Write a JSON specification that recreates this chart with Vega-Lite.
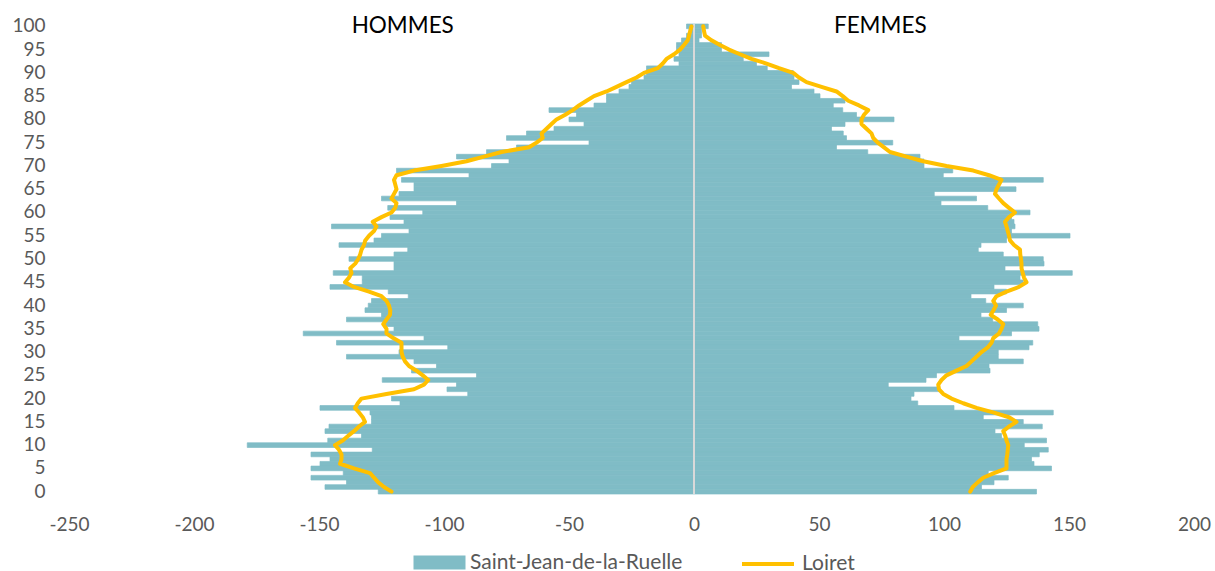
{
  "$schema": "https://vega.github.io/schema/vega-lite/v6.json",
  "width": 1125,
  "height": 470,
  "autosize": {"type": "none"},
  "padding": {"left": 69, "top": 24, "right": 21, "bottom": 77},
  "background": "white",
  "config": {"view": {"stroke": null}, "font": "Lato"},
  "data": {"values": [
    {"a":100,"s":"H","p":-3,"l":-1},{"a":99,"s":"H","p":-2,"l":-1.5},{"a":98,"s":"H","p":-3,"l":-2},{"a":97,"s":"H","p":-5,"l":-2.5},{"a":96,"s":"H","p":-7,"l":-4},
    {"a":95,"s":"H","p":-7,"l":-5.6},{"a":94,"s":"H","p":-6,"l":-8},{"a":93,"s":"H","p":-8,"l":-11},{"a":92,"s":"H","p":-6,"l":-12.5},{"a":91,"s":"H","p":-19,"l":-14.5},
    {"a":90,"s":"H","p":-19,"l":-20},{"a":89,"s":"H","p":-20,"l":-23},{"a":88,"s":"H","p":-25,"l":-27},{"a":87,"s":"H","p":-26,"l":-31},{"a":86,"s":"H","p":-30,"l":-35},
    {"a":85,"s":"H","p":-35,"l":-40},{"a":84,"s":"H","p":-35,"l":-43},{"a":83,"s":"H","p":-40,"l":-46},{"a":82,"s":"H","p":-58,"l":-48.5},{"a":81,"s":"H","p":-47,"l":-51.5},
    {"a":80,"s":"H","p":-50,"l":-55},{"a":79,"s":"H","p":-44,"l":-57},{"a":78,"s":"H","p":-56,"l":-59},{"a":77,"s":"H","p":-67,"l":-61},{"a":76,"s":"H","p":-75,"l":-60.5},
    {"a":75,"s":"H","p":-42,"l":-63},{"a":74,"s":"H","p":-71,"l":-66},{"a":73,"s":"H","p":-83,"l":-77},{"a":72,"s":"H","p":-95,"l":-84},{"a":71,"s":"H","p":-74,"l":-91},
    {"a":70,"s":"H","p":-81,"l":-101},{"a":69,"s":"H","p":-119,"l":-112},{"a":68,"s":"H","p":-90,"l":-119},{"a":67,"s":"H","p":-117,"l":-120},{"a":66,"s":"H","p":-112,"l":-119.5},
    {"a":65,"s":"H","p":-112,"l":-119},{"a":64,"s":"H","p":-118,"l":-120},{"a":63,"s":"H","p":-125,"l":-121},{"a":62,"s":"H","p":-95,"l":-119},{"a":61,"s":"H","p":-122.5,"l":-119.5},
    {"a":60,"s":"H","p":-108.5,"l":-121},{"a":59,"s":"H","p":-121.6,"l":-125},{"a":58,"s":"H","p":-116,"l":-128.5},{"a":57,"s":"H","p":-145,"l":-127},{"a":56,"s":"H","p":-114,"l":-128},
    {"a":55,"s":"H","p":-125,"l":-130},{"a":54,"s":"H","p":-128,"l":-131.5},{"a":53,"s":"H","p":-142,"l":-132},{"a":52,"s":"H","p":-114.5,"l":-133},{"a":51,"s":"H","p":-120,"l":-133.5},
    {"a":50,"s":"H","p":-138,"l":-134.3},{"a":49,"s":"H","p":-120,"l":-135.5},{"a":48,"s":"H","p":-120,"l":-137.5},{"a":47,"s":"H","p":-144.3,"l":-137},{"a":46,"s":"H","p":-132.7,"l":-138},
    {"a":45,"s":"H","p":-132.7,"l":-139.6},{"a":44,"s":"H","p":-145.6,"l":-136},{"a":43,"s":"H","p":-122.3,"l":-130},{"a":42,"s":"H","p":-114.3,"l":-125},{"a":41,"s":"H","p":-129,"l":-123},
    {"a":40,"s":"H","p":-130.3,"l":-122},{"a":39,"s":"H","p":-131.6,"l":-121.5},{"a":38,"s":"H","p":-125,"l":-121.6},{"a":37,"s":"H","p":-139,"l":-123},{"a":36,"s":"H","p":-124,"l":-124.3},
    {"a":35,"s":"H","p":-120,"l":-123},{"a":34,"s":"H","p":-156.3,"l":-123},{"a":33,"s":"H","p":-108,"l":-120.3},{"a":32,"s":"H","p":-143,"l":-117},{"a":31,"s":"H","p":-98.5,"l":-117},
    {"a":30,"s":"H","p":-118,"l":-117},{"a":29,"s":"H","p":-139,"l":-116.5},{"a":28,"s":"H","p":-112,"l":-115.6},{"a":27,"s":"H","p":-103,"l":-114},{"a":26,"s":"H","p":-113,"l":-111},
    {"a":25,"s":"H","p":-87,"l":-108.5},{"a":24,"s":"H","p":-124.7,"l":-106.3},{"a":23,"s":"H","p":-95,"l":-108},{"a":22,"s":"H","p":-98.8,"l":-112},{"a":21,"s":"H","p":-90.5,"l":-123},
    {"a":20,"s":"H","p":-121,"l":-133},{"a":19,"s":"H","p":-117.6,"l":-134.5},{"a":18,"s":"H","p":-149.6,"l":-135.6},{"a":17,"s":"H","p":-129.6,"l":-134},{"a":16,"s":"H","p":-129,"l":-132.5},
    {"a":15,"s":"H","p":-129,"l":-131.6},{"a":14,"s":"H","p":-146,"l":-134},{"a":13,"s":"H","p":-147.6,"l":-136},{"a":12,"s":"H","p":-133,"l":-138.3},{"a":11,"s":"H","p":-146.5,"l":-140.5},
    {"a":10,"s":"H","p":-178.7,"l":-143.6},{"a":9,"s":"H","p":-128.7,"l":-142},{"a":8,"s":"H","p":-153.2,"l":-141},{"a":7,"s":"H","p":-145.6,"l":-141},{"a":6,"s":"H","p":-149.6,"l":-141.6},
    {"a":5,"s":"H","p":-153.2,"l":-136},{"a":4,"s":"H","p":-140.3,"l":-129.6},{"a":3,"s":"H","p":-153.2,"l":-128},{"a":2,"s":"H","p":-139,"l":-126.3},{"a":1,"s":"H","p":-147.6,"l":-124},
    {"a":0,"s":"H","p":-126.3,"l":-121},
    {"a":100,"s":"F","p":5.7,"l":3.7},{"a":99,"s":"F","p":3,"l":4},{"a":98,"s":"F","p":3,"l":4.4},{"a":97,"s":"F","p":2,"l":7},{"a":96,"s":"F","p":11,"l":10.4},
    {"a":95,"s":"F","p":11,"l":14},{"a":94,"s":"F","p":30,"l":18.4},{"a":93,"s":"F","p":19.7,"l":23},{"a":92,"s":"F","p":25,"l":29},{"a":91,"s":"F","p":29.3,"l":34},
    {"a":90,"s":"F","p":39.7,"l":39.7},{"a":89,"s":"F","p":40,"l":42},{"a":88,"s":"F","p":42,"l":45},{"a":87,"s":"F","p":39,"l":51},{"a":86,"s":"F","p":48,"l":57},
    {"a":85,"s":"F","p":50.4,"l":59.5},{"a":84,"s":"F","p":60.4,"l":61.7},{"a":83,"s":"F","p":55.7,"l":66},{"a":82,"s":"F","p":59.5,"l":69.7},{"a":81,"s":"F","p":65,"l":68},
    {"a":80,"s":"F","p":80,"l":67},{"a":79,"s":"F","p":60.4,"l":67},{"a":78,"s":"F","p":55,"l":69},{"a":77,"s":"F","p":59.7,"l":71},{"a":76,"s":"F","p":61,"l":71.7},
    {"a":75,"s":"F","p":79.5,"l":73.5},{"a":74,"s":"F","p":57,"l":76},{"a":73,"s":"F","p":69.5,"l":78.4},{"a":72,"s":"F","p":90.4,"l":85},{"a":71,"s":"F","p":92,"l":91.7},
    {"a":70,"s":"F","p":92,"l":101},{"a":69,"s":"F","p":103.5,"l":111.7},{"a":68,"s":"F","p":99.7,"l":118},{"a":67,"s":"F","p":139.7,"l":123},{"a":66,"s":"F","p":122,"l":122},
    {"a":65,"s":"F","p":128.8,"l":121},{"a":64,"s":"F","p":96.1,"l":120.4},{"a":63,"s":"F","p":113,"l":122},{"a":62,"s":"F","p":98.8,"l":123.7},{"a":61,"s":"F","p":117.5,"l":126},
    {"a":60,"s":"F","p":134.4,"l":128.4},{"a":59,"s":"F","p":127,"l":126},{"a":58,"s":"F","p":128,"l":124.4},{"a":57,"s":"F","p":128.4,"l":125},{"a":56,"s":"F","p":127,"l":125.5},
    {"a":55,"s":"F","p":150.4,"l":126},{"a":54,"s":"F","p":125,"l":126.4},{"a":53,"s":"F","p":114.8,"l":128},{"a":52,"s":"F","p":113.7,"l":130.4},{"a":51,"s":"F","p":123.7,"l":130.5},
    {"a":50,"s":"F","p":139.7,"l":130.8},{"a":49,"s":"F","p":140,"l":131},{"a":48,"s":"F","p":124.4,"l":131},{"a":47,"s":"F","p":151.3,"l":131.5},{"a":46,"s":"F","p":130.4,"l":132},
    {"a":45,"s":"F","p":131.7,"l":133},{"a":44,"s":"F","p":120,"l":130},{"a":43,"s":"F","p":125,"l":125},{"a":42,"s":"F","p":110.8,"l":121},{"a":41,"s":"F","p":116.7,"l":119.7},
    {"a":40,"s":"F","p":131.7,"l":120.8},{"a":39,"s":"F","p":125,"l":119.8},{"a":38,"s":"F","p":114.8,"l":118.7},{"a":37,"s":"F","p":119.5,"l":121.5},{"a":36,"s":"F","p":137.5,"l":123.7},
    {"a":35,"s":"F","p":138,"l":123},{"a":34,"s":"F","p":127,"l":122},{"a":33,"s":"F","p":106,"l":119.7},{"a":32,"s":"F","p":135.5,"l":119},{"a":31,"s":"F","p":134,"l":117.5},
    {"a":30,"s":"F","p":121.7,"l":115},{"a":29,"s":"F","p":121.7,"l":113},{"a":28,"s":"F","p":131.7,"l":111},{"a":27,"s":"F","p":118,"l":109},{"a":26,"s":"F","p":118.4,"l":105},
    {"a":25,"s":"F","p":97,"l":101},{"a":24,"s":"F","p":92.8,"l":99},{"a":23,"s":"F","p":77.7,"l":97.7},{"a":22,"s":"F","p":98.1,"l":98},{"a":21,"s":"F","p":88,"l":99.7},
    {"a":20,"s":"F","p":86.8,"l":103},{"a":19,"s":"F","p":89.5,"l":107.7},{"a":18,"s":"F","p":104,"l":113},{"a":17,"s":"F","p":143.7,"l":120},{"a":16,"s":"F","p":115.7,"l":126},
    {"a":15,"s":"F","p":131.7,"l":129},{"a":14,"s":"F","p":139.3,"l":126},{"a":13,"s":"F","p":120.4,"l":123.7},{"a":12,"s":"F","p":123,"l":124.5},{"a":11,"s":"F","p":141,"l":125},
    {"a":10,"s":"F","p":132.1,"l":125.7},{"a":9,"s":"F","p":141.7,"l":125.5},{"a":8,"s":"F","p":138.1,"l":125.3},{"a":7,"s":"F","p":135,"l":125},{"a":6,"s":"F","p":136,"l":125},
    {"a":5,"s":"F","p":143,"l":125},{"a":4,"s":"F","p":117.7,"l":120},{"a":3,"s":"F","p":125.7,"l":115.7},{"a":2,"s":"F","p":120,"l":113.5},{"a":1,"s":"F","p":115,"l":111.5},
    {"a":0,"s":"F","p":137,"l":110.5}
  ]},
  "layer": [
    {
      "mark": {"type": "bar", "stroke": "#80BCC6", "strokeWidth": 0.7},
      "encoding": {
        "y": {"field": "a", "type": "ordinal", "sort": "descending",
              "scale": {"paddingInner": 0, "paddingOuter": 0},
              "axis": {"values": [0,5,10,15,20,25,30,35,40,45,50,55,60,65,70,75,80,85,90,95,100],
                       "title": null, "ticks": false, "domain": false, "grid": false,
                       "labelFontSize": 19, "labelColor": "#595959", "labelPadding": 24}},
        "x": {"field": "p", "type": "quantitative",
              "scale": {"domain": [-250, 200], "nice": false, "zero": false},
              "axis": {"values": [-250,-200,-150,-100,-50,0,50,100,150,200],
                       "labelExpr": "'' + datum.value", "labelFlush": false, "labelOverlap": false,
                       "title": null, "ticks": false, "domain": false, "grid": false,
                       "labelFontSize": 19, "labelColor": "#595959", "labelPadding": 21}},
        "color": {"datum": "Saint-Jean-de-la-Ruelle", "type": "nominal",
                  "scale": {"range": ["#80BCC6"]},
                  "legend": {"orient": "none", "legendX": 360, "legendY": 528, "title": null,
                             "padding": 0, "symbolType": "M-2.6,-0.7H2.6V0.7H-2.6Z", "symbolSize": 400,
                             "symbolStrokeWidth": 0, "labelFontSize": 21, "labelColor": "#595959",
                             "labelOffset": 20, "labelLimit": 400}}
      }
    },
    {
      "mark": {"type": "rule", "color": "#D9D9D9", "strokeWidth": 2},
      "encoding": {"x": {"datum": 0, "type": "quantitative"}}
    },
    {
      "mark": {"type": "line", "strokeWidth": 4, "strokeJoin": "round", "strokeCap": "round"},
      "encoding": {
        "y": {"field": "a", "type": "ordinal", "sort": "descending"},
        "x": {"field": "l", "type": "quantitative"},
        "detail": {"field": "s"},
        "order": {"field": "a", "type": "quantitative"},
        "stroke": {"datum": "Loiret", "type": "nominal",
                   "scale": {"range": ["#FFC000"]},
                   "legend": {"orient": "none", "legendX": 687, "legendY": 528, "title": null,
                              "padding": 0, "symbolType": "M-2.6,0H2.6", "symbolSize": 400,
                              "symbolStrokeWidth": 4, "labelFontSize": 21, "labelColor": "#595959",
                              "labelOffset": 22, "labelLimit": 400}}
      }
    },
    {
      "data": {"values": [{"t": "HOMMES", "x": -116.5, "a": 100}, {"t": "FEMMES", "x": 74.5, "a": 100}]},
      "mark": {"type": "text", "fontSize": 22.5, "color": "#000000", "align": "center", "baseline": "middle"},
      "encoding": {
        "x": {"field": "x", "type": "quantitative"},
        "y": {"field": "a", "type": "ordinal", "sort": "descending"},
        "text": {"field": "t"}
      }
    }
  ]
}
